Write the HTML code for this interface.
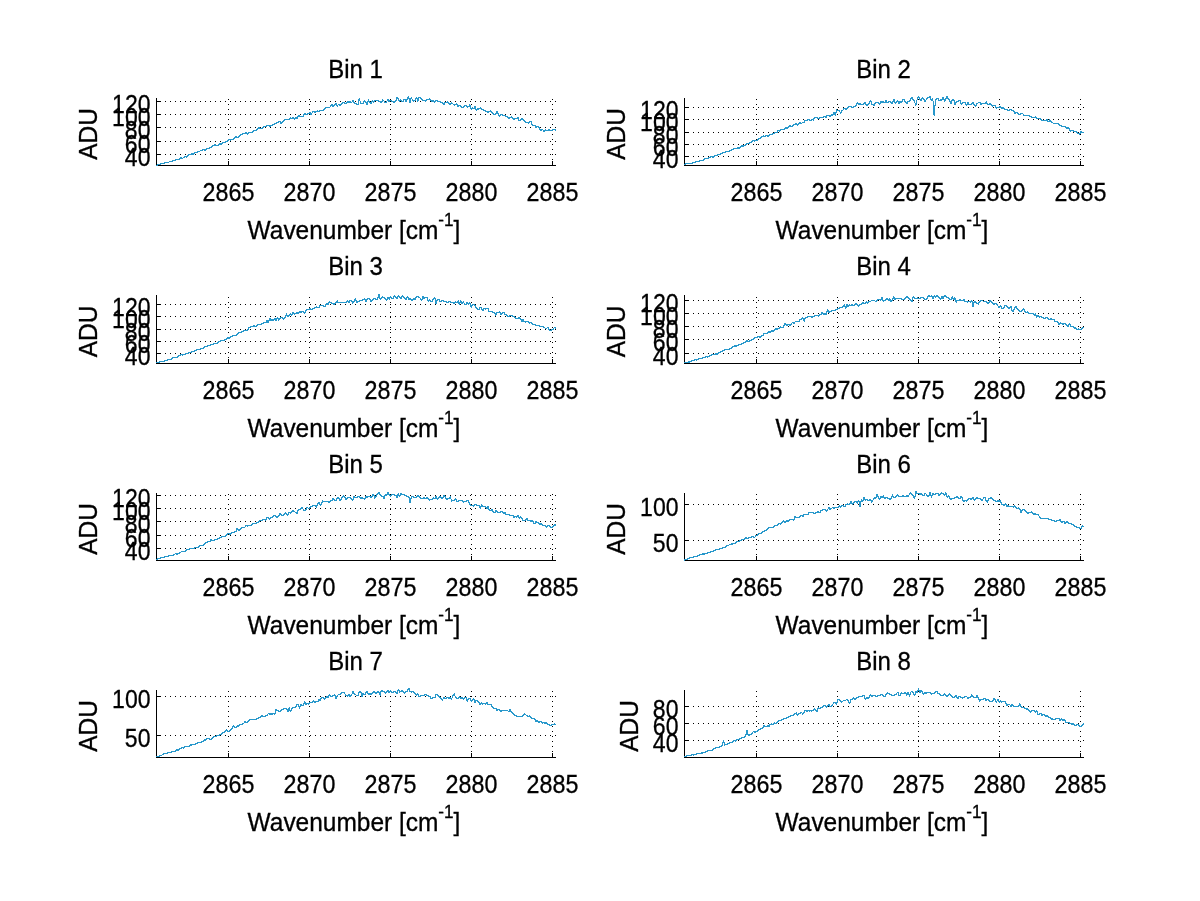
<!DOCTYPE html>
<html><head><meta charset="utf-8"><title>Bins</title>
<style>
html,body{margin:0;padding:0;background:#fff;}
body{width:1200px;height:901px;overflow:hidden;}
svg{display:block;will-change:transform;transform:translateZ(0);}
text{font-family:"Liberation Sans",sans-serif;font-size:24px;fill:#000;stroke:#000;stroke-width:0.3px;}
</style></head><body>
<svg width="1200" height="901" viewBox="0 0 1200 901">
<g stroke="#000" stroke-width="1" shape-rendering="crispEdges" fill="none">
<line x1="160" y1="101.5" x2="556" y2="101.5" stroke-dasharray="1 4"/>
<line x1="156" y1="101.5" x2="161" y2="101.5"/>
<line x1="160" y1="114.5" x2="556" y2="114.5" stroke-dasharray="1 4"/>
<line x1="156" y1="114.5" x2="161" y2="114.5"/>
<line x1="160" y1="127.5" x2="556" y2="127.5" stroke-dasharray="1 4"/>
<line x1="156" y1="127.5" x2="161" y2="127.5"/>
<line x1="160" y1="141.5" x2="556" y2="141.5" stroke-dasharray="1 4"/>
<line x1="156" y1="141.5" x2="161" y2="141.5"/>
<line x1="160" y1="154.5" x2="556" y2="154.5" stroke-dasharray="1 4"/>
<line x1="156" y1="154.5" x2="161" y2="154.5"/>
<line x1="228.5" y1="160" x2="228.5" y2="98" stroke-dasharray="1 4"/>
<line x1="228.5" y1="166" x2="228.5" y2="161"/>
<line x1="309.5" y1="160" x2="309.5" y2="98" stroke-dasharray="1 4"/>
<line x1="309.5" y1="166" x2="309.5" y2="161"/>
<line x1="390.5" y1="160" x2="390.5" y2="98" stroke-dasharray="1 4"/>
<line x1="390.5" y1="166" x2="390.5" y2="161"/>
<line x1="471.5" y1="160" x2="471.5" y2="98" stroke-dasharray="1 4"/>
<line x1="471.5" y1="166" x2="471.5" y2="161"/>
<line x1="552.5" y1="160" x2="552.5" y2="98" stroke-dasharray="1 4"/>
<line x1="552.5" y1="166" x2="552.5" y2="161"/>
<line x1="156.5" y1="98" x2="156.5" y2="166"/>
<line x1="156" y1="165.5" x2="556" y2="165.5"/>
</g>
<path d="M156.5,165V166M157.5,164V166M158.5,164V165M159.5,164V165M160.5,163V165M161.5,163V164M162.5,163V164M163.5,163V164M164.5,162V164M165.5,162V163M166.5,162V163M167.5,162V163M168.5,162V163M169.5,161V162M170.5,161V162M171.5,161V162M172.5,160V162M173.5,160V161M174.5,160V161M175.5,159V161M176.5,159V160M177.5,159V160M178.5,159V160M179.5,158V160M180.5,157V159M181.5,157V159M182.5,158V159M183.5,157V158M184.5,156V158M185.5,156V157M186.5,156V158M187.5,155V157M188.5,154V156M189.5,154V155M190.5,154V155M191.5,153V155M192.5,153V155M193.5,153V155M194.5,152V154M195.5,152V153M196.5,152V153M197.5,151V153M198.5,151V152M199.5,151V152M200.5,150V151M201.5,150V151M202.5,149V151M203.5,149V150M204.5,149V151M205.5,149V151M206.5,148V150M207.5,148V149M208.5,148V149M209.5,147V149M210.5,147V148M211.5,146V148M212.5,145V147M213.5,145V146M214.5,144V146M215.5,144V146M216.5,145V146M217.5,145V146M218.5,144V146M219.5,143V145M220.5,143V145M221.5,143V145M222.5,142V144M223.5,142V143M224.5,142V143M225.5,141V143M226.5,141V142M227.5,140V142M228.5,139V141M229.5,139V140M230.5,139V141M231.5,139V140M232.5,139V140M233.5,138V140M234.5,137V139M235.5,136V138M236.5,136V138M237.5,137V138M238.5,136V138M239.5,135V137M240.5,134V136M241.5,134V135M242.5,133V135M243.5,133V134M244.5,133V134M245.5,132V134M246.5,132V134M247.5,133V135M248.5,132V134M249.5,132V133M250.5,132V133M251.5,132V133M252.5,131V133M253.5,130V132M254.5,130V131M255.5,130V131M256.5,129V131M257.5,128V130M258.5,127V129M259.5,127V129M260.5,128V129M261.5,128V129M262.5,127V129M263.5,126V128M264.5,126V127M265.5,126V127M266.5,125V127M267.5,125V126M268.5,125V126M269.5,125V127M270.5,125V127M271.5,125V126M272.5,124V126M273.5,124V125M274.5,123V125M275.5,123V124M276.5,122V124M277.5,122V123M278.5,121V123M279.5,121V122M280.5,121V124M281.5,122V124M282.5,121V123M283.5,120V122M284.5,119V121M285.5,119V120M286.5,119V120M287.5,119V120M288.5,119V120M289.5,118V120M290.5,117V119M291.5,118V119M292.5,117V119M293.5,117V119M294.5,118V120M295.5,117V119M296.5,117V119M297.5,116V119M298.5,115V117M299.5,115V117M300.5,116V117M301.5,116V117M302.5,116V117M303.5,114V117M304.5,113V115M305.5,113V115M306.5,114V115M307.5,113V115M308.5,113V114M309.5,112V114M310.5,112V115M311.5,113V115M312.5,111V113M313.5,111V112M314.5,111V113M315.5,111V113M316.5,111V112M317.5,110V112M318.5,111V112M319.5,110V112M320.5,110V111M321.5,110V111M322.5,110V111M323.5,109V111M324.5,108V110M325.5,107V109M326.5,107V108M327.5,107V108M328.5,107V108M329.5,107V108M330.5,105V107M331.5,104V106M332.5,104V107M333.5,105V107M334.5,104V106M335.5,103V105M336.5,103V106M337.5,105V107M338.5,104V105M339.5,104V106M340.5,104V106M341.5,103V105M342.5,102V104M343.5,102V103M344.5,102V104M345.5,103V104M346.5,102V104M347.5,101V103M348.5,101V103M349.5,101V103M350.5,101V103M351.5,102V103M352.5,100V102M353.5,100V103M354.5,102V104M355.5,103V104M356.5,103V105M357.5,104V105M358.5,99V105M359.5,98V101M360.5,101V104M361.5,103V104M362.5,103V104M363.5,101V104M364.5,100V102M365.5,101V103M366.5,102V105M367.5,101V105M368.5,99V102M369.5,101V103M370.5,102V104M371.5,101V104M372.5,100V102M373.5,101V103M374.5,100V102M375.5,100V101M376.5,100V101M377.5,100V101M378.5,100V102M379.5,101V102M380.5,101V103M381.5,101V103M382.5,99V102M383.5,100V101M384.5,101V103M385.5,102V103M386.5,101V103M387.5,99V101M388.5,99V102M389.5,100V102M390.5,100V101M391.5,100V102M392.5,101V102M393.5,101V103M394.5,101V103M395.5,100V102M396.5,97V101M397.5,97V99M398.5,98V101M399.5,100V102M400.5,99V101M401.5,100V102M402.5,101V102M403.5,99V102M404.5,99V100M405.5,99V102M406.5,99V102M407.5,97V100M408.5,96V99M409.5,98V103M410.5,98V103M411.5,97V99M412.5,99V101M413.5,100V102M414.5,100V101M415.5,98V101M416.5,97V99M417.5,98V102M418.5,97V101M419.5,97V98M420.5,97V99M421.5,98V100M422.5,99V101M423.5,100V101M424.5,100V101M425.5,100V102M426.5,99V101M427.5,99V100M428.5,99V100M429.5,98V100M430.5,99V101M431.5,100V102M432.5,100V102M433.5,100V102M434.5,101V103M435.5,100V102M436.5,100V101M437.5,100V102M438.5,101V102M439.5,101V102M440.5,101V103M441.5,102V103M442.5,102V104M443.5,103V105M444.5,102V105M445.5,102V103M446.5,102V103M447.5,101V103M448.5,102V104M449.5,103V105M450.5,103V105M451.5,102V104M452.5,103V104M453.5,104V105M454.5,104V106M455.5,104V105M456.5,103V105M457.5,104V107M458.5,105V107M459.5,105V106M460.5,105V107M461.5,106V108M462.5,107V108M463.5,106V108M464.5,105V107M465.5,105V106M466.5,105V107M467.5,106V108M468.5,106V107M469.5,104V107M470.5,105V109M471.5,108V110M472.5,107V109M473.5,108V109M474.5,106V109M475.5,106V110M476.5,109V111M477.5,108V110M478.5,108V110M479.5,108V109M480.5,107V109M481.5,108V110M482.5,109V110M483.5,109V111M484.5,110V111M485.5,110V112M486.5,111V112M487.5,111V113M488.5,111V113M489.5,111V112M490.5,110V112M491.5,111V113M492.5,112V114M493.5,113V115M494.5,114V115M495.5,113V115M496.5,111V114M497.5,111V114M498.5,113V116M499.5,115V117M500.5,114V116M501.5,114V115M502.5,114V116M503.5,115V116M504.5,115V116M505.5,115V117M506.5,116V117M507.5,116V118M508.5,117V119M509.5,117V119M510.5,117V118M511.5,116V118M512.5,117V119M513.5,118V120M514.5,118V120M515.5,118V119M516.5,118V119M517.5,117V119M518.5,117V121M519.5,120V121M520.5,119V121M521.5,118V120M522.5,118V120M523.5,119V121M524.5,120V122M525.5,121V123M526.5,122V123M527.5,122V123M528.5,122V124M529.5,121V123M530.5,121V122M531.5,121V125M532.5,124V126M533.5,125V126M534.5,125V126M535.5,125V128M536.5,126V128M537.5,126V127M538.5,126V128M539.5,127V130M540.5,129V131M541.5,129V131M542.5,129V130M543.5,130V132M544.5,130V132M545.5,129V131M546.5,130V131M547.5,130V131M548.5,129V131M549.5,129V131M550.5,130V131M551.5,130V131M552.5,129V131M553.5,129V130M554.5,129V130M555.5,129V131" fill="none" stroke="#2898cb" stroke-width="1" shape-rendering="crispEdges"/>
<text transform="translate(355.5,78) scale(1.0,1.1)" text-anchor="middle">Bin 1</text>
<text transform="translate(228.5,201) scale(0.97,1.1)" text-anchor="middle">2865</text>
<text transform="translate(309.5,201) scale(0.97,1.1)" text-anchor="middle">2870</text>
<text transform="translate(390.5,201) scale(0.97,1.1)" text-anchor="middle">2875</text>
<text transform="translate(471.5,201) scale(0.97,1.1)" text-anchor="middle">2880</text>
<text transform="translate(552.5,201) scale(0.97,1.1)" text-anchor="middle">2885</text>
<text transform="translate(354.0,239) scale(1.02,1.1)" text-anchor="middle">Wavenumber [cm<tspan dy="-11.6" font-size="16.8">-1</tspan><tspan dy="11.6">]</tspan></text>
<text transform="translate(150.5,112.7) scale(0.96,1.1)" text-anchor="end">120</text>
<text transform="translate(150.5,125.7) scale(0.96,1.1)" text-anchor="end">100</text>
<text transform="translate(150.5,138.7) scale(0.96,1.1)" text-anchor="end">80</text>
<text transform="translate(150.5,152.7) scale(0.96,1.1)" text-anchor="end">60</text>
<text transform="translate(150.5,165.7) scale(0.96,1.1)" text-anchor="end">40</text>
<text transform="translate(97,134.0) rotate(-90) scale(1.02,1.1)" text-anchor="middle">ADU</text>
<g stroke="#000" stroke-width="1" shape-rendering="crispEdges" fill="none">
<line x1="688" y1="107.5" x2="1084" y2="107.5" stroke-dasharray="1 4"/>
<line x1="684" y1="107.5" x2="689" y2="107.5"/>
<line x1="688" y1="119.5" x2="1084" y2="119.5" stroke-dasharray="1 4"/>
<line x1="684" y1="119.5" x2="689" y2="119.5"/>
<line x1="688" y1="132.5" x2="1084" y2="132.5" stroke-dasharray="1 4"/>
<line x1="684" y1="132.5" x2="689" y2="132.5"/>
<line x1="688" y1="144.5" x2="1084" y2="144.5" stroke-dasharray="1 4"/>
<line x1="684" y1="144.5" x2="689" y2="144.5"/>
<line x1="688" y1="156.5" x2="1084" y2="156.5" stroke-dasharray="1 4"/>
<line x1="684" y1="156.5" x2="689" y2="156.5"/>
<line x1="756.5" y1="160" x2="756.5" y2="98" stroke-dasharray="1 4"/>
<line x1="756.5" y1="166" x2="756.5" y2="161"/>
<line x1="837.5" y1="160" x2="837.5" y2="98" stroke-dasharray="1 4"/>
<line x1="837.5" y1="166" x2="837.5" y2="161"/>
<line x1="918.5" y1="160" x2="918.5" y2="98" stroke-dasharray="1 4"/>
<line x1="918.5" y1="166" x2="918.5" y2="161"/>
<line x1="999.5" y1="160" x2="999.5" y2="98" stroke-dasharray="1 4"/>
<line x1="999.5" y1="166" x2="999.5" y2="161"/>
<line x1="1080.5" y1="160" x2="1080.5" y2="98" stroke-dasharray="1 4"/>
<line x1="1080.5" y1="166" x2="1080.5" y2="161"/>
<line x1="684.5" y1="98" x2="684.5" y2="166"/>
<line x1="684" y1="165.5" x2="1084" y2="165.5"/>
</g>
<path d="M684.5,164V165M685.5,163V165M686.5,163V164M687.5,163V164M688.5,163V164M689.5,163V164M690.5,163V164M691.5,163V164M692.5,162V164M693.5,162V163M694.5,162V163M695.5,161V163M696.5,161V162M697.5,161V162M698.5,161V162M699.5,160V162M700.5,160V161M701.5,160V161M702.5,160V161M703.5,159V161M704.5,158V160M705.5,158V159M706.5,158V159M707.5,158V159M708.5,157V159M709.5,157V158M710.5,156V158M711.5,156V157M712.5,156V158M713.5,156V158M714.5,155V157M715.5,155V156M716.5,155V156M717.5,154V156M718.5,154V155M719.5,154V155M720.5,153V155M721.5,153V154M722.5,152V154M723.5,152V153M724.5,152V153M725.5,151V153M726.5,151V152M727.5,151V152M728.5,151V152M729.5,150V152M730.5,150V151M731.5,149V151M732.5,149V150M733.5,148V150M734.5,148V149M735.5,148V149M736.5,148V149M737.5,147V149M738.5,147V149M739.5,147V149M740.5,146V148M741.5,145V147M742.5,145V147M743.5,145V147M744.5,145V146M745.5,144V146M746.5,143V145M747.5,143V144M748.5,143V144M749.5,142V144M750.5,142V143M751.5,141V143M752.5,140V142M753.5,140V141M754.5,140V142M755.5,140V141M756.5,140V141M757.5,139V141M758.5,138V140M759.5,138V139M760.5,137V139M761.5,136V138M762.5,136V137M763.5,135V137M764.5,136V137M765.5,135V137M766.5,135V136M767.5,135V137M768.5,135V137M769.5,134V136M770.5,134V135M771.5,134V135M772.5,133V135M773.5,133V134M774.5,132V134M775.5,132V133M776.5,132V133M777.5,130V133M778.5,130V131M779.5,130V132M780.5,129V131M781.5,129V130M782.5,129V130M783.5,129V130M784.5,128V130M785.5,127V129M786.5,127V129M787.5,127V129M788.5,126V128M789.5,125V127M790.5,125V127M791.5,126V127M792.5,125V127M793.5,124V126M794.5,124V125M795.5,123V125M796.5,123V125M797.5,124V126M798.5,123V125M799.5,122V124M800.5,122V124M801.5,123V124M802.5,122V123M803.5,122V123M804.5,120V123M805.5,120V121M806.5,120V121M807.5,119V121M808.5,119V120M809.5,119V121M810.5,120V121M811.5,119V121M812.5,119V120M813.5,118V121M814.5,117V119M815.5,117V118M816.5,117V118M817.5,117V119M818.5,118V119M819.5,117V119M820.5,117V118M821.5,117V118M822.5,117V118M823.5,116V118M824.5,116V117M825.5,116V118M826.5,115V118M827.5,115V116M828.5,115V116M829.5,115V117M830.5,115V117M831.5,114V116M832.5,114V116M833.5,112V115M834.5,112V115M835.5,112V116M836.5,109V113M837.5,110V111M838.5,110V111M839.5,110V112M840.5,112V114M841.5,110V113M842.5,110V111M843.5,108V110M844.5,108V109M845.5,108V110M846.5,108V110M847.5,107V109M848.5,106V108M849.5,106V107M850.5,106V107M851.5,106V108M852.5,107V108M853.5,106V108M854.5,106V107M855.5,105V107M856.5,103V106M857.5,102V104M858.5,103V105M859.5,103V105M860.5,103V105M861.5,104V105M862.5,104V105M863.5,103V105M864.5,102V104M865.5,102V105M866.5,104V106M867.5,104V106M868.5,103V105M869.5,101V104M870.5,100V102M871.5,101V105M872.5,104V105M873.5,104V106M874.5,103V106M875.5,102V104M876.5,102V103M877.5,102V103M878.5,102V104M879.5,103V105M880.5,101V104M881.5,101V103M882.5,101V103M883.5,101V103M884.5,102V103M885.5,100V103M886.5,100V103M887.5,102V103M888.5,101V103M889.5,101V102M890.5,101V103M891.5,102V104M892.5,101V104M893.5,99V102M894.5,99V103M895.5,102V104M896.5,101V103M897.5,100V102M898.5,101V104M899.5,101V104M900.5,101V103M901.5,101V103M902.5,99V102M903.5,99V100M904.5,99V102M905.5,101V103M906.5,102V104M907.5,101V104M908.5,101V102M909.5,100V102M910.5,98V101M911.5,97V99M912.5,97V100M913.5,99V101M914.5,100V103M915.5,103V106M916.5,100V105M917.5,97V100M918.5,96V98M919.5,97V100M920.5,99V101M921.5,98V101M922.5,97V99M923.5,98V100M924.5,99V102M925.5,100V102M926.5,98V100M927.5,97V99M928.5,97V98M929.5,96V98M930.5,96V100M931.5,99V101M932.5,98V101M933.5,101V115M934.5,105V116M935.5,99V106M936.5,98V100M937.5,98V99M938.5,98V101M939.5,100V101M940.5,99V101M941.5,99V101M942.5,97V100M943.5,97V100M944.5,99V102M945.5,98V101M946.5,96V99M947.5,96V99M948.5,98V100M949.5,99V102M950.5,101V104M951.5,100V104M952.5,99V101M953.5,99V101M954.5,100V105M955.5,102V105M956.5,101V103M957.5,101V102M958.5,100V102M959.5,100V101M960.5,100V104M961.5,103V105M962.5,102V104M963.5,102V103M964.5,102V103M965.5,102V105M966.5,104V106M967.5,102V105M968.5,102V105M969.5,104V105M970.5,104V105M971.5,103V105M972.5,102V104M973.5,102V105M974.5,104V106M975.5,105V107M976.5,103V106M977.5,103V104M978.5,102V103M979.5,102V103M980.5,102V105M981.5,103V105M982.5,103V104M983.5,103V104M984.5,103V104M985.5,102V104M986.5,101V104M987.5,103V105M988.5,104V105M989.5,103V105M990.5,103V105M991.5,104V106M992.5,105V107M993.5,105V106M994.5,105V106M995.5,105V108M996.5,107V109M997.5,107V108M998.5,107V108M999.5,106V108M1000.5,106V108M1001.5,107V109M1002.5,107V109M1003.5,107V109M1004.5,108V110M1005.5,109V110M1006.5,109V110M1007.5,109V111M1008.5,110V111M1009.5,109V111M1010.5,109V110M1011.5,109V111M1012.5,110V111M1013.5,110V112M1014.5,111V114M1015.5,112V114M1016.5,112V113M1017.5,112V114M1018.5,113V115M1019.5,114V115M1020.5,113V115M1021.5,113V114M1022.5,113V114M1023.5,114V116M1024.5,115V116M1025.5,115V116M1026.5,115V116M1027.5,115V116M1028.5,115V116M1029.5,115V117M1030.5,116V117M1031.5,116V118M1032.5,117V118M1033.5,117V118M1034.5,117V118M1035.5,116V118M1036.5,117V119M1037.5,118V119M1038.5,118V119M1039.5,118V119M1040.5,118V120M1041.5,119V121M1042.5,120V121M1043.5,120V121M1044.5,120V121M1045.5,120V121M1046.5,119V121M1047.5,119V122M1048.5,121V122M1049.5,119V122M1050.5,120V122M1051.5,121V123M1052.5,122V123M1053.5,123V124M1054.5,123V124M1055.5,123V124M1056.5,123V124M1057.5,123V124M1058.5,123V125M1059.5,124V126M1060.5,125V126M1061.5,125V127M1062.5,126V127M1063.5,126V127M1064.5,126V127M1065.5,126V128M1066.5,127V129M1067.5,127V129M1068.5,127V129M1069.5,128V131M1070.5,130V132M1071.5,130V131M1072.5,130V131M1073.5,130V132M1074.5,131V132M1075.5,131V132M1076.5,131V133M1077.5,132V134M1078.5,133V134M1079.5,133V135M1080.5,131V134M1081.5,131V133M1082.5,132V133M1083.5,132V133" fill="none" stroke="#2898cb" stroke-width="1" shape-rendering="crispEdges"/>
<text transform="translate(883.5,78) scale(1.0,1.1)" text-anchor="middle">Bin 2</text>
<text transform="translate(756.5,201) scale(0.97,1.1)" text-anchor="middle">2865</text>
<text transform="translate(837.5,201) scale(0.97,1.1)" text-anchor="middle">2870</text>
<text transform="translate(918.5,201) scale(0.97,1.1)" text-anchor="middle">2875</text>
<text transform="translate(999.5,201) scale(0.97,1.1)" text-anchor="middle">2880</text>
<text transform="translate(1080.5,201) scale(0.97,1.1)" text-anchor="middle">2885</text>
<text transform="translate(882.0,239) scale(1.02,1.1)" text-anchor="middle">Wavenumber [cm<tspan dy="-11.6" font-size="16.8">-1</tspan><tspan dy="11.6">]</tspan></text>
<text transform="translate(678.5,118.7) scale(0.96,1.1)" text-anchor="end">120</text>
<text transform="translate(678.5,130.7) scale(0.96,1.1)" text-anchor="end">100</text>
<text transform="translate(678.5,143.7) scale(0.96,1.1)" text-anchor="end">80</text>
<text transform="translate(678.5,155.7) scale(0.96,1.1)" text-anchor="end">60</text>
<text transform="translate(678.5,167.7) scale(0.96,1.1)" text-anchor="end">40</text>
<text transform="translate(625,134.0) rotate(-90) scale(1.02,1.1)" text-anchor="middle">ADU</text>
<g stroke="#000" stroke-width="1" shape-rendering="crispEdges" fill="none">
<line x1="160" y1="304.5" x2="556" y2="304.5" stroke-dasharray="1 4"/>
<line x1="156" y1="304.5" x2="161" y2="304.5"/>
<line x1="160" y1="316.5" x2="556" y2="316.5" stroke-dasharray="1 4"/>
<line x1="156" y1="316.5" x2="161" y2="316.5"/>
<line x1="160" y1="329.5" x2="556" y2="329.5" stroke-dasharray="1 4"/>
<line x1="156" y1="329.5" x2="161" y2="329.5"/>
<line x1="160" y1="341.5" x2="556" y2="341.5" stroke-dasharray="1 4"/>
<line x1="156" y1="341.5" x2="161" y2="341.5"/>
<line x1="160" y1="353.5" x2="556" y2="353.5" stroke-dasharray="1 4"/>
<line x1="156" y1="353.5" x2="161" y2="353.5"/>
<line x1="228.5" y1="358" x2="228.5" y2="295" stroke-dasharray="1 4"/>
<line x1="228.5" y1="364" x2="228.5" y2="359"/>
<line x1="309.5" y1="358" x2="309.5" y2="295" stroke-dasharray="1 4"/>
<line x1="309.5" y1="364" x2="309.5" y2="359"/>
<line x1="390.5" y1="358" x2="390.5" y2="295" stroke-dasharray="1 4"/>
<line x1="390.5" y1="364" x2="390.5" y2="359"/>
<line x1="471.5" y1="358" x2="471.5" y2="295" stroke-dasharray="1 4"/>
<line x1="471.5" y1="364" x2="471.5" y2="359"/>
<line x1="552.5" y1="358" x2="552.5" y2="295" stroke-dasharray="1 4"/>
<line x1="552.5" y1="364" x2="552.5" y2="359"/>
<line x1="156.5" y1="295" x2="156.5" y2="364"/>
<line x1="156" y1="363.5" x2="556" y2="363.5"/>
</g>
<path d="M156.5,362V363M157.5,362V363M158.5,362V363M159.5,361V363M160.5,361V362M161.5,361V362M162.5,361V362M163.5,361V362M164.5,360V362M165.5,360V361M166.5,360V361M167.5,359V361M168.5,359V360M169.5,359V360M170.5,359V360M171.5,358V360M172.5,357V359M173.5,357V358M174.5,357V358M175.5,357V358M176.5,357V358M177.5,356V358M178.5,355V357M179.5,355V356M180.5,354V356M181.5,354V355M182.5,354V356M183.5,354V355M184.5,354V355M185.5,353V355M186.5,353V354M187.5,353V354M188.5,352V354M189.5,352V353M190.5,352V353M191.5,351V353M192.5,351V352M193.5,351V352M194.5,350V352M195.5,350V351M196.5,349V351M197.5,349V350M198.5,349V350M199.5,349V350M200.5,348V350M201.5,348V349M202.5,348V349M203.5,347V349M204.5,346V348M205.5,346V347M206.5,346V347M207.5,345V347M208.5,345V346M209.5,345V346M210.5,344V346M211.5,344V345M212.5,344V345M213.5,343V345M214.5,343V344M215.5,343V344M216.5,343V344M217.5,342V344M218.5,341V343M219.5,341V342M220.5,340V342M221.5,340V341M222.5,340V341M223.5,340V341M224.5,339V341M225.5,339V340M226.5,338V340M227.5,337V339M228.5,337V339M229.5,337V339M230.5,336V338M231.5,336V337M232.5,335V337M233.5,335V336M234.5,335V336M235.5,335V336M236.5,334V336M237.5,333V335M238.5,332V334M239.5,332V333M240.5,332V333M241.5,331V333M242.5,331V332M243.5,330V332M244.5,330V331M245.5,330V331M246.5,330V331M247.5,329V331M248.5,327V330M249.5,327V328M250.5,326V328M251.5,326V327M252.5,326V327M253.5,325V327M254.5,325V327M255.5,326V327M256.5,325V327M257.5,324V326M258.5,324V325M259.5,324V325M260.5,324V325M261.5,323V325M262.5,323V324M263.5,322V324M264.5,322V323M265.5,322V323M266.5,320V323M267.5,320V323M268.5,320V323M269.5,318V321M270.5,318V321M271.5,319V321M272.5,319V321M273.5,319V321M274.5,318V320M275.5,318V321M276.5,318V321M277.5,317V319M278.5,318V321M279.5,318V320M280.5,317V319M281.5,317V318M282.5,317V319M283.5,318V320M284.5,317V319M285.5,315V318M286.5,313V316M287.5,315V317M288.5,315V317M289.5,314V316M290.5,313V315M291.5,314V316M292.5,312V315M293.5,312V314M294.5,313V315M295.5,313V314M296.5,312V314M297.5,312V314M298.5,312V314M299.5,311V313M300.5,311V313M301.5,311V313M302.5,311V312M303.5,311V313M304.5,312V314M305.5,310V313M306.5,309V311M307.5,309V310M308.5,309V310M309.5,308V310M310.5,308V310M311.5,309V310M312.5,308V310M313.5,308V309M314.5,307V309M315.5,307V308M316.5,306V308M317.5,307V308M318.5,307V308M319.5,305V308M320.5,305V306M321.5,305V306M322.5,305V306M323.5,305V307M324.5,306V307M325.5,304V307M326.5,303V305M327.5,303V305M328.5,302V305M329.5,301V303M330.5,302V303M331.5,302V304M332.5,303V304M333.5,303V305M334.5,303V305M335.5,302V304M336.5,301V303M337.5,300V303M338.5,302V303M339.5,302V303M340.5,302V303M341.5,302V303M342.5,302V303M343.5,302V303M344.5,302V303M345.5,302V303M346.5,301V303M347.5,300V302M348.5,301V303M349.5,300V303M350.5,300V301M351.5,300V302M352.5,301V304M353.5,301V303M354.5,299V302M355.5,298V301M356.5,300V303M357.5,301V303M358.5,301V302M359.5,300V302M360.5,300V301M361.5,300V301M362.5,299V301M363.5,299V300M364.5,298V300M365.5,299V302M366.5,299V302M367.5,298V300M368.5,298V299M369.5,298V300M370.5,299V302M371.5,300V302M372.5,299V301M373.5,298V300M374.5,298V299M375.5,298V300M376.5,299V300M377.5,297V300M378.5,294V298M379.5,294V299M380.5,298V300M381.5,297V299M382.5,296V298M383.5,297V298M384.5,297V299M385.5,298V300M386.5,299V301M387.5,297V300M388.5,297V299M389.5,297V300M390.5,296V298M391.5,297V299M392.5,298V299M393.5,296V299M394.5,295V297M395.5,296V298M396.5,297V299M397.5,296V299M398.5,295V297M399.5,296V298M400.5,297V299M401.5,296V299M402.5,295V297M403.5,296V298M404.5,297V299M405.5,298V300M406.5,297V300M407.5,296V298M408.5,297V300M409.5,298V300M410.5,298V300M411.5,299V301M412.5,299V301M413.5,298V300M414.5,298V300M415.5,297V300M416.5,296V298M417.5,296V297M418.5,296V298M419.5,297V298M420.5,298V300M421.5,299V301M422.5,296V300M423.5,296V299M424.5,297V299M425.5,297V298M426.5,297V298M427.5,297V301M428.5,300V302M429.5,299V301M430.5,300V302M431.5,301V302M432.5,299V302M433.5,298V300M434.5,297V299M435.5,298V304M436.5,300V304M437.5,299V301M438.5,299V300M439.5,299V302M440.5,301V302M441.5,300V302M442.5,300V301M443.5,300V302M444.5,301V302M445.5,301V302M446.5,301V303M447.5,302V303M448.5,301V303M449.5,301V302M450.5,301V303M451.5,302V303M452.5,302V303M453.5,302V304M454.5,302V304M455.5,301V303M456.5,302V303M457.5,301V303M458.5,300V304M459.5,302V305M460.5,300V303M461.5,301V304M462.5,302V304M463.5,301V303M464.5,303V305M465.5,304V305M466.5,302V305M467.5,302V304M468.5,303V305M469.5,302V304M470.5,303V307M471.5,305V308M472.5,304V306M473.5,304V305M474.5,304V306M475.5,305V308M476.5,307V309M477.5,308V310M478.5,309V310M479.5,307V310M480.5,307V308M481.5,307V310M482.5,309V311M483.5,308V311M484.5,308V309M485.5,308V310M486.5,308V309M487.5,308V309M488.5,308V312M489.5,311V312M490.5,311V312M491.5,311V312M492.5,311V313M493.5,312V313M494.5,312V314M495.5,313V316M496.5,312V315M497.5,312V313M498.5,312V313M499.5,311V313M500.5,312V315M501.5,313V315M502.5,312V314M503.5,312V313M504.5,312V315M505.5,314V315M506.5,314V316M507.5,315V317M508.5,316V317M509.5,315V317M510.5,315V316M511.5,315V316M512.5,315V317M513.5,316V317M514.5,316V318M515.5,317V319M516.5,318V319M517.5,318V319M518.5,317V319M519.5,317V319M520.5,318V320M521.5,319V322M522.5,319V322M523.5,319V322M524.5,321V322M525.5,321V323M526.5,321V322M527.5,321V322M528.5,321V323M529.5,322V324M530.5,322V323M531.5,322V324M532.5,323V325M533.5,324V325M534.5,324V325M535.5,324V326M536.5,325V326M537.5,325V326M538.5,325V326M539.5,325V327M540.5,326V327M541.5,326V327M542.5,326V327M543.5,326V328M544.5,327V328M545.5,328V329M546.5,328V329M547.5,327V328M548.5,327V330M549.5,329V331M550.5,330V331M551.5,329V331M552.5,329V330M553.5,328V330M554.5,327V328M555.5,327V329" fill="none" stroke="#2898cb" stroke-width="1" shape-rendering="crispEdges"/>
<text transform="translate(355.5,275) scale(1.0,1.1)" text-anchor="middle">Bin 3</text>
<text transform="translate(228.5,399) scale(0.97,1.1)" text-anchor="middle">2865</text>
<text transform="translate(309.5,399) scale(0.97,1.1)" text-anchor="middle">2870</text>
<text transform="translate(390.5,399) scale(0.97,1.1)" text-anchor="middle">2875</text>
<text transform="translate(471.5,399) scale(0.97,1.1)" text-anchor="middle">2880</text>
<text transform="translate(552.5,399) scale(0.97,1.1)" text-anchor="middle">2885</text>
<text transform="translate(354.0,437) scale(1.02,1.1)" text-anchor="middle">Wavenumber [cm<tspan dy="-11.6" font-size="16.8">-1</tspan><tspan dy="11.6">]</tspan></text>
<text transform="translate(150.5,315.7) scale(0.96,1.1)" text-anchor="end">120</text>
<text transform="translate(150.5,327.7) scale(0.96,1.1)" text-anchor="end">100</text>
<text transform="translate(150.5,340.7) scale(0.96,1.1)" text-anchor="end">80</text>
<text transform="translate(150.5,352.7) scale(0.96,1.1)" text-anchor="end">60</text>
<text transform="translate(150.5,364.7) scale(0.96,1.1)" text-anchor="end">40</text>
<text transform="translate(97,331.5) rotate(-90) scale(1.02,1.1)" text-anchor="middle">ADU</text>
<g stroke="#000" stroke-width="1" shape-rendering="crispEdges" fill="none">
<line x1="688" y1="300.5" x2="1084" y2="300.5" stroke-dasharray="1 4"/>
<line x1="684" y1="300.5" x2="689" y2="300.5"/>
<line x1="688" y1="313.5" x2="1084" y2="313.5" stroke-dasharray="1 4"/>
<line x1="684" y1="313.5" x2="689" y2="313.5"/>
<line x1="688" y1="326.5" x2="1084" y2="326.5" stroke-dasharray="1 4"/>
<line x1="684" y1="326.5" x2="689" y2="326.5"/>
<line x1="688" y1="339.5" x2="1084" y2="339.5" stroke-dasharray="1 4"/>
<line x1="684" y1="339.5" x2="689" y2="339.5"/>
<line x1="688" y1="353.5" x2="1084" y2="353.5" stroke-dasharray="1 4"/>
<line x1="684" y1="353.5" x2="689" y2="353.5"/>
<line x1="756.5" y1="358" x2="756.5" y2="295" stroke-dasharray="1 4"/>
<line x1="756.5" y1="364" x2="756.5" y2="359"/>
<line x1="837.5" y1="358" x2="837.5" y2="295" stroke-dasharray="1 4"/>
<line x1="837.5" y1="364" x2="837.5" y2="359"/>
<line x1="918.5" y1="358" x2="918.5" y2="295" stroke-dasharray="1 4"/>
<line x1="918.5" y1="364" x2="918.5" y2="359"/>
<line x1="999.5" y1="358" x2="999.5" y2="295" stroke-dasharray="1 4"/>
<line x1="999.5" y1="364" x2="999.5" y2="359"/>
<line x1="1080.5" y1="358" x2="1080.5" y2="295" stroke-dasharray="1 4"/>
<line x1="1080.5" y1="364" x2="1080.5" y2="359"/>
<line x1="684.5" y1="295" x2="684.5" y2="364"/>
<line x1="684" y1="363.5" x2="1084" y2="363.5"/>
</g>
<path d="M684.5,362V363M685.5,362V363M686.5,362V363M687.5,362V363M688.5,361V363M689.5,361V363M690.5,361V362M691.5,360V362M692.5,360V361M693.5,360V361M694.5,359V361M695.5,359V360M696.5,359V361M697.5,359V360M698.5,358V360M699.5,358V359M700.5,358V359M701.5,358V359M702.5,357V359M703.5,357V358M704.5,357V358M705.5,356V358M706.5,356V357M707.5,356V358M708.5,356V357M709.5,355V357M710.5,355V356M711.5,354V356M712.5,354V355M713.5,354V355M714.5,354V355M715.5,353V355M716.5,353V355M717.5,353V355M718.5,352V354M719.5,352V353M720.5,351V353M721.5,351V352M722.5,350V352M723.5,350V351M724.5,349V351M725.5,349V350M726.5,349V350M727.5,349V350M728.5,349V350M729.5,348V350M730.5,348V349M731.5,347V349M732.5,346V348M733.5,346V347M734.5,345V347M735.5,345V347M736.5,345V347M737.5,345V346M738.5,344V346M739.5,344V345M740.5,344V345M741.5,343V345M742.5,343V344M743.5,342V344M744.5,342V343M745.5,341V343M746.5,340V342M747.5,340V342M748.5,341V342M749.5,340V342M750.5,340V341M751.5,339V341M752.5,339V340M753.5,338V340M754.5,337V339M755.5,337V338M756.5,337V338M757.5,336V338M758.5,336V337M759.5,336V338M760.5,336V338M761.5,335V337M762.5,335V336M763.5,333V336M764.5,333V334M765.5,333V334M766.5,333V334M767.5,332V334M768.5,331V333M769.5,331V333M770.5,331V333M771.5,330V332M772.5,330V332M773.5,330V332M774.5,329V331M775.5,328V330M776.5,328V330M777.5,328V330M778.5,328V329M779.5,327V329M780.5,326V328M781.5,327V328M782.5,327V328M783.5,325V328M784.5,323V326M785.5,323V325M786.5,324V326M787.5,324V326M788.5,324V325M789.5,324V326M790.5,324V326M791.5,323V325M792.5,322V323M793.5,322V324M794.5,322V324M795.5,321V322M796.5,321V322M797.5,321V322M798.5,321V322M799.5,319V322M800.5,319V320M801.5,318V320M802.5,317V319M803.5,318V321M804.5,318V322M805.5,317V319M806.5,317V318M807.5,316V318M808.5,316V317M809.5,316V317M810.5,316V317M811.5,316V318M812.5,316V318M813.5,316V317M814.5,315V317M815.5,315V316M816.5,315V316M817.5,315V316M818.5,315V317M819.5,314V316M820.5,314V315M821.5,312V315M822.5,312V314M823.5,313V315M824.5,313V315M825.5,313V315M826.5,311V315M827.5,309V312M828.5,310V313M829.5,311V313M830.5,311V312M831.5,310V312M832.5,310V311M833.5,310V311M834.5,310V311M835.5,309V311M836.5,309V310M837.5,308V310M838.5,308V309M839.5,307V309M840.5,307V308M841.5,307V308M842.5,306V308M843.5,305V307M844.5,304V307M845.5,306V309M846.5,304V308M847.5,304V307M848.5,305V307M849.5,304V306M850.5,305V306M851.5,304V306M852.5,304V306M853.5,305V306M854.5,304V306M855.5,303V305M856.5,303V305M857.5,304V306M858.5,305V307M859.5,304V306M860.5,304V305M861.5,303V305M862.5,302V304M863.5,302V304M864.5,303V304M865.5,302V304M866.5,301V303M867.5,302V304M868.5,301V303M869.5,301V302M870.5,301V302M871.5,300V301M872.5,300V301M873.5,300V301M874.5,300V301M875.5,301V302M876.5,300V302M877.5,299V301M878.5,299V300M879.5,299V300M880.5,299V301M881.5,297V300M882.5,297V301M883.5,300V302M884.5,300V301M885.5,299V301M886.5,298V300M887.5,298V300M888.5,299V301M889.5,298V301M890.5,299V302M891.5,300V302M892.5,298V301M893.5,296V299M894.5,297V300M895.5,298V300M896.5,298V299M897.5,298V299M898.5,298V299M899.5,298V299M900.5,298V299M901.5,298V300M902.5,299V300M903.5,299V300M904.5,298V300M905.5,297V299M906.5,296V298M907.5,296V298M908.5,297V299M909.5,298V300M910.5,299V301M911.5,300V302M912.5,297V302M913.5,296V298M914.5,297V299M915.5,298V299M916.5,298V299M917.5,297V299M918.5,298V299M919.5,298V299M920.5,297V299M921.5,297V298M922.5,297V298M923.5,297V299M924.5,298V300M925.5,299V300M926.5,298V300M927.5,296V299M928.5,295V297M929.5,295V297M930.5,296V297M931.5,295V297M932.5,296V299M933.5,296V299M934.5,295V297M935.5,296V298M936.5,295V297M937.5,295V297M938.5,296V298M939.5,297V299M940.5,298V300M941.5,296V299M942.5,296V299M943.5,296V299M944.5,295V297M945.5,295V297M946.5,296V298M947.5,297V298M948.5,297V299M949.5,298V300M950.5,299V300M951.5,297V300M952.5,296V299M953.5,298V300M954.5,297V300M955.5,298V302M956.5,300V303M957.5,300V301M958.5,300V301M959.5,299V301M960.5,299V301M961.5,300V301M962.5,300V301M963.5,299V301M964.5,299V302M965.5,301V302M966.5,301V302M967.5,301V303M968.5,301V302M969.5,301V302M970.5,301V303M971.5,300V302M972.5,301V307M973.5,302V307M974.5,301V303M975.5,301V303M976.5,302V304M977.5,303V304M978.5,302V305M979.5,301V303M980.5,300V302M981.5,300V301M982.5,300V301M983.5,301V302M984.5,301V302M985.5,301V302M986.5,301V303M987.5,302V304M988.5,302V304M989.5,300V303M990.5,300V302M991.5,301V303M992.5,302V304M993.5,303V305M994.5,303V305M995.5,303V304M996.5,303V305M997.5,304V306M998.5,306V308M999.5,306V308M1000.5,305V307M1001.5,306V309M1002.5,308V309M1003.5,307V309M1004.5,305V308M1005.5,305V306M1006.5,305V307M1007.5,306V308M1008.5,307V309M1009.5,307V309M1010.5,306V308M1011.5,306V311M1012.5,310V312M1013.5,309V312M1014.5,307V310M1015.5,306V308M1016.5,306V309M1017.5,308V310M1018.5,309V311M1019.5,310V312M1020.5,311V312M1021.5,310V312M1022.5,309V311M1023.5,308V310M1024.5,309V312M1025.5,311V313M1026.5,312V313M1027.5,311V313M1028.5,312V314M1029.5,313V314M1030.5,313V314M1031.5,313V314M1032.5,313V314M1033.5,313V315M1034.5,314V316M1035.5,313V316M1036.5,315V318M1037.5,315V317M1038.5,315V317M1039.5,316V318M1040.5,316V317M1041.5,316V318M1042.5,317V318M1043.5,317V319M1044.5,318V319M1045.5,317V319M1046.5,317V318M1047.5,317V319M1048.5,318V320M1049.5,319V320M1050.5,318V320M1051.5,318V320M1052.5,319V320M1053.5,319V320M1054.5,319V322M1055.5,321V322M1056.5,321V322M1057.5,321V323M1058.5,322V325M1059.5,323V325M1060.5,322V324M1061.5,323V324M1062.5,323V325M1063.5,323V325M1064.5,323V324M1065.5,323V325M1066.5,324V326M1067.5,325V327M1068.5,324V327M1069.5,323V325M1070.5,324V327M1071.5,326V327M1072.5,326V327M1073.5,326V328M1074.5,327V329M1075.5,327V329M1076.5,328V330M1077.5,329V330M1078.5,328V330M1079.5,329V330M1080.5,329V330M1081.5,328V330M1082.5,327V329M1083.5,327V328" fill="none" stroke="#2898cb" stroke-width="1" shape-rendering="crispEdges"/>
<text transform="translate(883.5,275) scale(1.0,1.1)" text-anchor="middle">Bin 4</text>
<text transform="translate(756.5,399) scale(0.97,1.1)" text-anchor="middle">2865</text>
<text transform="translate(837.5,399) scale(0.97,1.1)" text-anchor="middle">2870</text>
<text transform="translate(918.5,399) scale(0.97,1.1)" text-anchor="middle">2875</text>
<text transform="translate(999.5,399) scale(0.97,1.1)" text-anchor="middle">2880</text>
<text transform="translate(1080.5,399) scale(0.97,1.1)" text-anchor="middle">2885</text>
<text transform="translate(882.0,437) scale(1.02,1.1)" text-anchor="middle">Wavenumber [cm<tspan dy="-11.6" font-size="16.8">-1</tspan><tspan dy="11.6">]</tspan></text>
<text transform="translate(678.5,311.7) scale(0.96,1.1)" text-anchor="end">120</text>
<text transform="translate(678.5,324.7) scale(0.96,1.1)" text-anchor="end">100</text>
<text transform="translate(678.5,337.7) scale(0.96,1.1)" text-anchor="end">80</text>
<text transform="translate(678.5,350.7) scale(0.96,1.1)" text-anchor="end">60</text>
<text transform="translate(678.5,364.7) scale(0.96,1.1)" text-anchor="end">40</text>
<text transform="translate(625,331.5) rotate(-90) scale(1.02,1.1)" text-anchor="middle">ADU</text>
<g stroke="#000" stroke-width="1" shape-rendering="crispEdges" fill="none">
<line x1="160" y1="495.5" x2="556" y2="495.5" stroke-dasharray="1 4"/>
<line x1="156" y1="495.5" x2="161" y2="495.5"/>
<line x1="160" y1="508.5" x2="556" y2="508.5" stroke-dasharray="1 4"/>
<line x1="156" y1="508.5" x2="161" y2="508.5"/>
<line x1="160" y1="521.5" x2="556" y2="521.5" stroke-dasharray="1 4"/>
<line x1="156" y1="521.5" x2="161" y2="521.5"/>
<line x1="160" y1="535.5" x2="556" y2="535.5" stroke-dasharray="1 4"/>
<line x1="156" y1="535.5" x2="161" y2="535.5"/>
<line x1="160" y1="548.5" x2="556" y2="548.5" stroke-dasharray="1 4"/>
<line x1="156" y1="548.5" x2="161" y2="548.5"/>
<line x1="228.5" y1="555" x2="228.5" y2="493" stroke-dasharray="1 4"/>
<line x1="228.5" y1="561" x2="228.5" y2="556"/>
<line x1="309.5" y1="555" x2="309.5" y2="493" stroke-dasharray="1 4"/>
<line x1="309.5" y1="561" x2="309.5" y2="556"/>
<line x1="390.5" y1="555" x2="390.5" y2="493" stroke-dasharray="1 4"/>
<line x1="390.5" y1="561" x2="390.5" y2="556"/>
<line x1="471.5" y1="555" x2="471.5" y2="493" stroke-dasharray="1 4"/>
<line x1="471.5" y1="561" x2="471.5" y2="556"/>
<line x1="552.5" y1="555" x2="552.5" y2="493" stroke-dasharray="1 4"/>
<line x1="552.5" y1="561" x2="552.5" y2="556"/>
<line x1="156.5" y1="493" x2="156.5" y2="561"/>
<line x1="156" y1="560.5" x2="556" y2="560.5"/>
</g>
<path d="M156.5,559V560M157.5,558V560M158.5,558V559M159.5,558V559M160.5,557V559M161.5,557V558M162.5,557V558M163.5,557V558M164.5,556V558M165.5,556V557M166.5,556V557M167.5,556V557M168.5,555V557M169.5,555V556M170.5,555V556M171.5,555V556M172.5,555V556M173.5,554V556M174.5,554V555M175.5,553V554M176.5,553V555M177.5,553V555M178.5,553V554M179.5,552V554M180.5,552V553M181.5,551V552M182.5,551V552M183.5,551V552M184.5,551V552M185.5,550V552M186.5,549V551M187.5,549V550M188.5,549V550M189.5,548V550M190.5,548V549M191.5,548V549M192.5,548V549M193.5,548V549M194.5,547V549M195.5,547V548M196.5,547V548M197.5,547V548M198.5,546V548M199.5,545V547M200.5,545V546M201.5,545V546M202.5,545V546M203.5,544V546M204.5,543V545M205.5,542V544M206.5,542V543M207.5,541V543M208.5,541V542M209.5,541V542M210.5,539V542M211.5,539V541M212.5,540V541M213.5,540V541M214.5,539V541M215.5,539V540M216.5,539V540M217.5,538V540M218.5,538V539M219.5,537V539M220.5,537V538M221.5,536V538M222.5,536V537M223.5,536V537M224.5,536V537M225.5,535V537M226.5,534V536M227.5,533V535M228.5,533V534M229.5,533V535M230.5,533V535M231.5,532V534M232.5,532V533M233.5,532V533M234.5,531V533M235.5,531V532M236.5,528V532M237.5,528V530M238.5,529V531M239.5,529V531M240.5,528V530M241.5,527V529M242.5,527V528M243.5,527V528M244.5,527V528M245.5,525V527M246.5,525V526M247.5,525V527M248.5,525V526M249.5,525V526M250.5,525V526M251.5,524V526M252.5,523V525M253.5,523V524M254.5,523V524M255.5,523V524M256.5,522V524M257.5,522V523M258.5,521V523M259.5,520V522M260.5,520V521M261.5,520V521M262.5,519V521M263.5,519V520M264.5,519V520M265.5,519V521M266.5,517V520M267.5,517V518M268.5,517V519M269.5,518V520M270.5,517V519M271.5,517V518M272.5,516V518M273.5,515V517M274.5,515V516M275.5,515V517M276.5,516V518M277.5,516V518M278.5,515V517M279.5,513V516M280.5,513V515M281.5,514V516M282.5,515V516M283.5,514V516M284.5,513V515M285.5,512V514M286.5,513V515M287.5,514V516M288.5,512V515M289.5,512V513M290.5,512V514M291.5,511V513M292.5,510V512M293.5,510V512M294.5,511V512M295.5,512V513M296.5,512V514M297.5,510V514M298.5,509V511M299.5,509V510M300.5,508V510M301.5,507V509M302.5,507V509M303.5,509V511M304.5,510V511M305.5,509V511M306.5,507V510M307.5,507V508M308.5,508V509M309.5,507V509M310.5,506V508M311.5,506V507M312.5,505V507M313.5,505V506M314.5,505V506M315.5,505V507M316.5,505V508M317.5,503V506M318.5,502V504M319.5,502V505M320.5,504V506M321.5,502V505M322.5,500V503M323.5,501V502M324.5,501V502M325.5,501V502M326.5,501V502M327.5,501V502M328.5,501V503M329.5,501V503M330.5,500V502M331.5,500V501M332.5,498V501M333.5,498V500M334.5,499V501M335.5,500V501M336.5,498V501M337.5,497V499M338.5,497V499M339.5,498V501M340.5,499V501M341.5,497V500M342.5,496V498M343.5,495V497M344.5,496V498M345.5,497V500M346.5,498V500M347.5,497V499M348.5,497V498M349.5,497V498M350.5,497V499M351.5,498V500M352.5,499V501M353.5,496V500M354.5,496V498M355.5,497V498M356.5,497V498M357.5,496V498M358.5,496V497M359.5,496V498M360.5,497V499M361.5,497V499M362.5,497V499M363.5,498V499M364.5,498V500M365.5,496V499M366.5,496V498M367.5,496V498M368.5,496V497M369.5,496V497M370.5,496V498M371.5,496V498M372.5,494V497M373.5,494V496M374.5,495V499M375.5,496V498M376.5,494V497M377.5,493V495M378.5,492V494M379.5,492V495M380.5,494V496M381.5,495V497M382.5,496V497M383.5,496V499M384.5,495V499M385.5,494V496M386.5,494V496M387.5,492V495M388.5,492V495M389.5,494V496M390.5,495V497M391.5,494V496M392.5,494V495M393.5,494V495M394.5,494V496M395.5,495V496M396.5,495V498M397.5,494V498M398.5,493V496M399.5,495V497M400.5,493V496M401.5,493V495M402.5,494V495M403.5,494V495M404.5,494V496M405.5,495V496M406.5,495V497M407.5,496V497M408.5,496V498M409.5,497V503M410.5,498V503M411.5,496V499M412.5,496V497M413.5,496V498M414.5,497V498M415.5,497V498M416.5,496V498M417.5,495V497M418.5,495V497M419.5,496V498M420.5,497V499M421.5,498V499M422.5,498V499M423.5,497V499M424.5,497V499M425.5,498V499M426.5,497V499M427.5,497V499M428.5,498V500M429.5,499V501M430.5,499V500M431.5,499V500M432.5,498V500M433.5,497V499M434.5,498V499M435.5,496V499M436.5,496V499M437.5,498V500M438.5,497V499M439.5,496V498M440.5,496V498M441.5,497V499M442.5,497V499M443.5,495V498M444.5,495V497M445.5,496V499M446.5,498V500M447.5,498V500M448.5,498V499M449.5,497V499M450.5,496V499M451.5,499V502M452.5,500V501M453.5,500V501M454.5,499V501M455.5,498V500M456.5,499V502M457.5,501V502M458.5,500V502M459.5,500V501M460.5,500V501M461.5,500V501M462.5,500V502M463.5,501V503M464.5,501V502M465.5,501V502M466.5,500V502M467.5,500V501M468.5,500V503M469.5,502V505M470.5,504V506M471.5,505V506M472.5,505V506M473.5,505V507M474.5,504V506M475.5,504V505M476.5,504V506M477.5,505V506M478.5,505V506M479.5,505V508M480.5,506V509M481.5,504V507M482.5,505V507M483.5,506V507M484.5,506V507M485.5,506V508M486.5,507V509M487.5,506V509M488.5,506V510M489.5,509V511M490.5,510V511M491.5,509V511M492.5,509V512M493.5,511V513M494.5,512V513M495.5,510V513M496.5,510V512M497.5,511V513M498.5,512V513M499.5,512V513M500.5,511V513M501.5,511V512M502.5,511V513M503.5,512V514M504.5,512V514M505.5,512V515M506.5,514V515M507.5,514V515M508.5,514V515M509.5,514V516M510.5,515V516M511.5,515V516M512.5,515V516M513.5,515V518M514.5,516V518M515.5,516V517M516.5,516V518M517.5,515V517M518.5,515V518M519.5,517V519M520.5,516V518M521.5,517V519M522.5,518V521M523.5,520V521M524.5,520V521M525.5,519V521M526.5,518V520M527.5,518V521M528.5,520V521M529.5,520V521M530.5,520V522M531.5,520V522M532.5,520V522M533.5,521V524M534.5,523V524M535.5,521V524M536.5,521V523M537.5,522V523M538.5,522V524M539.5,523V525M540.5,523V525M541.5,523V525M542.5,524V526M543.5,525V526M544.5,525V526M545.5,525V527M546.5,526V528M547.5,525V527M548.5,525V526M549.5,525V527M550.5,526V528M551.5,527V528M552.5,526V528M553.5,525V527M554.5,524V526M555.5,524V526" fill="none" stroke="#2898cb" stroke-width="1" shape-rendering="crispEdges"/>
<text transform="translate(355.5,473) scale(1.0,1.1)" text-anchor="middle">Bin 5</text>
<text transform="translate(228.5,596) scale(0.97,1.1)" text-anchor="middle">2865</text>
<text transform="translate(309.5,596) scale(0.97,1.1)" text-anchor="middle">2870</text>
<text transform="translate(390.5,596) scale(0.97,1.1)" text-anchor="middle">2875</text>
<text transform="translate(471.5,596) scale(0.97,1.1)" text-anchor="middle">2880</text>
<text transform="translate(552.5,596) scale(0.97,1.1)" text-anchor="middle">2885</text>
<text transform="translate(354.0,634) scale(1.02,1.1)" text-anchor="middle">Wavenumber [cm<tspan dy="-11.6" font-size="16.8">-1</tspan><tspan dy="11.6">]</tspan></text>
<text transform="translate(150.5,506.7) scale(0.96,1.1)" text-anchor="end">120</text>
<text transform="translate(150.5,519.7) scale(0.96,1.1)" text-anchor="end">100</text>
<text transform="translate(150.5,532.7) scale(0.96,1.1)" text-anchor="end">80</text>
<text transform="translate(150.5,546.7) scale(0.96,1.1)" text-anchor="end">60</text>
<text transform="translate(150.5,559.7) scale(0.96,1.1)" text-anchor="end">40</text>
<text transform="translate(97,529.0) rotate(-90) scale(1.02,1.1)" text-anchor="middle">ADU</text>
<g stroke="#000" stroke-width="1" shape-rendering="crispEdges" fill="none">
<line x1="688" y1="504.5" x2="1084" y2="504.5" stroke-dasharray="1 4"/>
<line x1="684" y1="504.5" x2="689" y2="504.5"/>
<line x1="688" y1="540.5" x2="1084" y2="540.5" stroke-dasharray="1 4"/>
<line x1="684" y1="540.5" x2="689" y2="540.5"/>
<line x1="756.5" y1="555" x2="756.5" y2="493" stroke-dasharray="1 4"/>
<line x1="756.5" y1="561" x2="756.5" y2="556"/>
<line x1="837.5" y1="555" x2="837.5" y2="493" stroke-dasharray="1 4"/>
<line x1="837.5" y1="561" x2="837.5" y2="556"/>
<line x1="918.5" y1="555" x2="918.5" y2="493" stroke-dasharray="1 4"/>
<line x1="918.5" y1="561" x2="918.5" y2="556"/>
<line x1="999.5" y1="555" x2="999.5" y2="493" stroke-dasharray="1 4"/>
<line x1="999.5" y1="561" x2="999.5" y2="556"/>
<line x1="1080.5" y1="555" x2="1080.5" y2="493" stroke-dasharray="1 4"/>
<line x1="1080.5" y1="561" x2="1080.5" y2="556"/>
<line x1="684.5" y1="493" x2="684.5" y2="561"/>
<line x1="684" y1="560.5" x2="1084" y2="560.5"/>
</g>
<path d="M684.5,559V561M685.5,559V560M686.5,559V560M687.5,558V560M688.5,558V559M689.5,557V559M690.5,557V558M691.5,557V558M692.5,557V558M693.5,556V558M694.5,556V557M695.5,556V557M696.5,556V557M697.5,555V557M698.5,555V556M699.5,554V556M700.5,554V555M701.5,554V555M702.5,553V555M703.5,553V555M704.5,553V555M705.5,553V554M706.5,553V554M707.5,552V554M708.5,552V553M709.5,552V553M710.5,551V553M711.5,551V552M712.5,551V552M713.5,550V552M714.5,550V551M715.5,549V551M716.5,549V550M717.5,549V550M718.5,549V550M719.5,548V550M720.5,548V549M721.5,548V549M722.5,547V549M723.5,547V548M724.5,547V548M725.5,546V548M726.5,545V547M727.5,545V546M728.5,545V546M729.5,544V545M730.5,544V545M731.5,543V545M732.5,543V545M733.5,543V544M734.5,543V544M735.5,542V544M736.5,541V543M737.5,541V542M738.5,541V542M739.5,540V542M740.5,540V541M741.5,539V541M742.5,539V540M743.5,539V540M744.5,538V540M745.5,537V539M746.5,537V539M747.5,538V539M748.5,537V539M749.5,537V538M750.5,537V538M751.5,536V538M752.5,536V537M753.5,536V538M754.5,537V538M755.5,535V537M756.5,535V536M757.5,534V536M758.5,533V535M759.5,533V534M760.5,533V534M761.5,532V534M762.5,531V533M763.5,531V532M764.5,530V532M765.5,530V531M766.5,529V531M767.5,528V530M768.5,527V529M769.5,527V528M770.5,527V528M771.5,527V528M772.5,527V528M773.5,526V528M774.5,525V527M775.5,525V526M776.5,525V526M777.5,524V526M778.5,523V525M779.5,523V524M780.5,523V525M781.5,522V524M782.5,521V523M783.5,520V522M784.5,521V523M785.5,521V523M786.5,520V522M787.5,520V522M788.5,520V522M789.5,519V521M790.5,519V520M791.5,519V520M792.5,519V520M793.5,519V521M794.5,516V520M795.5,516V518M796.5,517V518M797.5,517V518M798.5,517V518M799.5,516V518M800.5,515V517M801.5,515V516M802.5,515V517M803.5,514V517M804.5,514V515M805.5,514V515M806.5,514V515M807.5,514V515M808.5,512V515M809.5,512V513M810.5,512V513M811.5,512V513M812.5,512V513M813.5,512V514M814.5,513V514M815.5,512V514M816.5,512V513M817.5,511V513M818.5,511V513M819.5,512V513M820.5,510V513M821.5,510V511M822.5,509V511M823.5,509V510M824.5,509V510M825.5,509V511M826.5,510V512M827.5,509V511M828.5,507V509M829.5,507V510M830.5,508V510M831.5,508V509M832.5,507V508M833.5,507V509M834.5,507V509M835.5,507V508M836.5,507V508M837.5,507V508M838.5,506V508M839.5,505V507M840.5,506V508M841.5,505V507M842.5,505V506M843.5,505V507M844.5,506V507M845.5,504V507M846.5,504V505M847.5,503V505M848.5,504V505M849.5,503V505M850.5,501V504M851.5,501V504M852.5,503V505M853.5,502V504M854.5,501V503M855.5,501V502M856.5,501V503M857.5,501V504M858.5,500V502M859.5,501V507M860.5,501V507M861.5,499V502M862.5,500V502M863.5,497V501M864.5,497V500M865.5,499V501M866.5,499V500M867.5,499V501M868.5,500V501M869.5,499V501M870.5,499V501M871.5,500V503M872.5,500V502M873.5,498V500M874.5,497V499M875.5,497V499M876.5,494V498M877.5,494V497M878.5,496V499M879.5,498V500M880.5,496V499M881.5,496V498M882.5,496V498M883.5,495V498M884.5,497V499M885.5,497V499M886.5,497V498M887.5,497V499M888.5,498V499M889.5,498V500M890.5,498V500M891.5,496V499M892.5,494V497M893.5,496V498M894.5,497V498M895.5,496V498M896.5,495V497M897.5,494V496M898.5,495V497M899.5,496V497M900.5,496V497M901.5,496V497M902.5,495V497M903.5,495V497M904.5,496V497M905.5,496V497M906.5,495V497M907.5,495V497M908.5,495V497M909.5,493V495M910.5,492V494M911.5,493V495M912.5,494V496M913.5,495V498M914.5,496V499M915.5,491V497M916.5,491V494M917.5,493V494M918.5,493V494M919.5,493V495M920.5,493V495M921.5,493V495M922.5,494V496M923.5,495V496M924.5,493V496M925.5,493V494M926.5,494V496M927.5,495V497M928.5,495V497M929.5,492V496M930.5,492V496M931.5,495V498M932.5,493V496M933.5,493V495M934.5,494V495M935.5,493V495M936.5,493V494M937.5,493V494M938.5,493V496M939.5,494V496M940.5,493V495M941.5,492V494M942.5,493V494M943.5,493V495M944.5,494V496M945.5,492V495M946.5,493V497M947.5,496V498M948.5,495V497M949.5,496V499M950.5,498V500M951.5,498V500M952.5,498V499M953.5,498V499M954.5,497V499M955.5,497V498M956.5,496V498M957.5,496V498M958.5,497V499M959.5,498V499M960.5,496V499M961.5,496V498M962.5,497V501M963.5,500V502M964.5,500V502M965.5,500V501M966.5,500V502M967.5,499V501M968.5,498V500M969.5,498V499M970.5,498V500M971.5,498V500M972.5,497V499M973.5,497V500M974.5,499V501M975.5,498V500M976.5,497V499M977.5,497V499M978.5,498V499M979.5,498V499M980.5,498V500M981.5,499V501M982.5,499V501M983.5,497V499M984.5,497V498M985.5,497V501M986.5,500V502M987.5,500V503M988.5,498V501M989.5,498V499M990.5,497V499M991.5,497V499M992.5,498V500M993.5,499V501M994.5,500V501M995.5,500V502M996.5,501V502M997.5,500V502M998.5,500V502M999.5,500V502M1000.5,500V503M1001.5,502V505M1002.5,504V505M1003.5,504V506M1004.5,504V506M1005.5,503V505M1006.5,504V507M1007.5,505V507M1008.5,505V507M1009.5,506V507M1010.5,506V507M1011.5,506V507M1012.5,506V507M1013.5,506V508M1014.5,505V507M1015.5,506V508M1016.5,507V509M1017.5,508V509M1018.5,507V509M1019.5,508V510M1020.5,509V513M1021.5,510V513M1022.5,509V511M1023.5,509V510M1024.5,509V511M1025.5,510V512M1026.5,511V513M1027.5,512V514M1028.5,512V514M1029.5,512V513M1030.5,512V513M1031.5,511V513M1032.5,512V514M1033.5,513V515M1034.5,513V515M1035.5,513V515M1036.5,514V515M1037.5,514V515M1038.5,514V516M1039.5,516V518M1040.5,517V519M1041.5,518V519M1042.5,518V519M1043.5,518V519M1044.5,518V519M1045.5,518V519M1046.5,518V519M1047.5,518V519M1048.5,518V520M1049.5,519V520M1050.5,519V520M1051.5,519V521M1052.5,520V521M1053.5,520V521M1054.5,520V522M1055.5,521V522M1056.5,520V522M1057.5,520V521M1058.5,520V521M1059.5,519V521M1060.5,519V522M1061.5,521V523M1062.5,521V523M1063.5,521V522M1064.5,521V524M1065.5,522V524M1066.5,521V523M1067.5,521V523M1068.5,522V524M1069.5,523V524M1070.5,523V524M1071.5,523V525M1072.5,524V525M1073.5,524V526M1074.5,525V527M1075.5,526V527M1076.5,526V528M1077.5,527V528M1078.5,527V528M1079.5,527V529M1080.5,528V529M1081.5,526V529M1082.5,525V527M1083.5,526V527" fill="none" stroke="#2898cb" stroke-width="1" shape-rendering="crispEdges"/>
<text transform="translate(883.5,473) scale(1.0,1.1)" text-anchor="middle">Bin 6</text>
<text transform="translate(756.5,596) scale(0.97,1.1)" text-anchor="middle">2865</text>
<text transform="translate(837.5,596) scale(0.97,1.1)" text-anchor="middle">2870</text>
<text transform="translate(918.5,596) scale(0.97,1.1)" text-anchor="middle">2875</text>
<text transform="translate(999.5,596) scale(0.97,1.1)" text-anchor="middle">2880</text>
<text transform="translate(1080.5,596) scale(0.97,1.1)" text-anchor="middle">2885</text>
<text transform="translate(882.0,634) scale(1.02,1.1)" text-anchor="middle">Wavenumber [cm<tspan dy="-11.6" font-size="16.8">-1</tspan><tspan dy="11.6">]</tspan></text>
<text transform="translate(678.5,515.7) scale(0.96,1.1)" text-anchor="end">100</text>
<text transform="translate(678.5,551.7) scale(0.96,1.1)" text-anchor="end">50</text>
<text transform="translate(625,529.0) rotate(-90) scale(1.02,1.1)" text-anchor="middle">ADU</text>
<g stroke="#000" stroke-width="1" shape-rendering="crispEdges" fill="none">
<line x1="160" y1="696.5" x2="556" y2="696.5" stroke-dasharray="1 4"/>
<line x1="156" y1="696.5" x2="161" y2="696.5"/>
<line x1="160" y1="735.5" x2="556" y2="735.5" stroke-dasharray="1 4"/>
<line x1="156" y1="735.5" x2="161" y2="735.5"/>
<line x1="228.5" y1="752" x2="228.5" y2="690" stroke-dasharray="1 4"/>
<line x1="228.5" y1="758" x2="228.5" y2="753"/>
<line x1="309.5" y1="752" x2="309.5" y2="690" stroke-dasharray="1 4"/>
<line x1="309.5" y1="758" x2="309.5" y2="753"/>
<line x1="390.5" y1="752" x2="390.5" y2="690" stroke-dasharray="1 4"/>
<line x1="390.5" y1="758" x2="390.5" y2="753"/>
<line x1="471.5" y1="752" x2="471.5" y2="690" stroke-dasharray="1 4"/>
<line x1="471.5" y1="758" x2="471.5" y2="753"/>
<line x1="552.5" y1="752" x2="552.5" y2="690" stroke-dasharray="1 4"/>
<line x1="552.5" y1="758" x2="552.5" y2="753"/>
<line x1="156.5" y1="690" x2="156.5" y2="758"/>
<line x1="156" y1="757.5" x2="556" y2="757.5"/>
</g>
<path d="M156.5,756V757M157.5,756V757M158.5,756V757M159.5,755V757M160.5,755V756M161.5,755V756M162.5,754V755M163.5,753V755M164.5,753V754M165.5,753V754M166.5,753V754M167.5,752V754M168.5,752V753M169.5,752V753M170.5,752V753M171.5,751V753M172.5,751V752M173.5,751V752M174.5,751V752M175.5,750V752M176.5,749V751M177.5,749V751M178.5,749V751M179.5,748V750M180.5,748V749M181.5,747V749M182.5,747V748M183.5,747V749M184.5,746V748M185.5,746V747M186.5,746V747M187.5,746V747M188.5,746V747M189.5,745V747M190.5,744V746M191.5,744V746M192.5,744V745M193.5,744V745M194.5,744V745M195.5,743V745M196.5,743V744M197.5,742V744M198.5,742V743M199.5,742V743M200.5,742V743M201.5,741V743M202.5,741V742M203.5,740V742M204.5,739V741M205.5,739V741M206.5,738V740M207.5,738V739M208.5,738V739M209.5,738V740M210.5,739V740M211.5,738V740M212.5,737V739M213.5,736V738M214.5,736V737M215.5,736V737M216.5,735V737M217.5,735V736M218.5,735V736M219.5,734V736M220.5,734V735M221.5,733V735M222.5,732V734M223.5,732V733M224.5,731V733M225.5,730V732M226.5,729V731M227.5,730V732M228.5,731V732M229.5,730V732M230.5,729V731M231.5,728V730M232.5,726V729M233.5,725V727M234.5,726V728M235.5,727V728M236.5,726V728M237.5,725V727M238.5,725V727M239.5,724V726M240.5,724V725M241.5,724V725M242.5,723V725M243.5,723V724M244.5,721V723M245.5,721V723M246.5,722V723M247.5,721V723M248.5,720V722M249.5,719V721M250.5,719V720M251.5,719V720M252.5,719V720M253.5,719V720M254.5,719V720M255.5,719V720M256.5,718V720M257.5,718V719M258.5,717V719M259.5,717V718M260.5,716V718M261.5,715V717M262.5,715V717M263.5,716V717M264.5,716V717M265.5,715V717M266.5,715V716M267.5,714V716M268.5,713V714M269.5,713V715M270.5,713V715M271.5,713V715M272.5,713V715M273.5,713V714M274.5,713V715M275.5,709V714M276.5,709V711M277.5,710V711M278.5,710V712M279.5,711V712M280.5,710V712M281.5,709V711M282.5,709V710M283.5,708V710M284.5,708V709M285.5,708V709M286.5,708V710M287.5,709V712M288.5,708V712M289.5,707V711M290.5,710V712M291.5,708V711M292.5,707V709M293.5,707V708M294.5,707V708M295.5,706V708M296.5,704V707M297.5,704V705M298.5,704V707M299.5,706V709M300.5,704V707M301.5,704V706M302.5,705V706M303.5,703V706M304.5,701V704M305.5,702V705M306.5,703V705M307.5,703V704M308.5,703V705M309.5,702V704M310.5,702V703M311.5,702V703M312.5,701V703M313.5,700V702M314.5,701V703M315.5,701V703M316.5,701V702M317.5,701V702M318.5,699V702M319.5,699V701M320.5,698V701M321.5,697V699M322.5,697V698M323.5,697V699M324.5,698V700M325.5,697V699M326.5,696V698M327.5,696V698M328.5,695V698M329.5,694V696M330.5,695V697M331.5,696V697M332.5,695V697M333.5,695V696M334.5,694V696M335.5,695V699M336.5,696V699M337.5,695V697M338.5,694V695M339.5,694V695M340.5,693V695M341.5,692V694M342.5,692V693M343.5,692V693M344.5,692V694M345.5,694V696M346.5,695V696M347.5,695V697M348.5,694V696M349.5,694V697M350.5,695V697M351.5,694V696M352.5,691V694M353.5,691V694M354.5,693V695M355.5,694V695M356.5,695V696M357.5,695V696M358.5,692V696M359.5,691V693M360.5,691V693M361.5,692V697M362.5,693V697M363.5,693V695M364.5,694V695M365.5,692V695M366.5,691V693M367.5,691V694M368.5,693V695M369.5,693V695M370.5,693V695M371.5,693V695M372.5,692V694M373.5,691V693M374.5,691V693M375.5,692V694M376.5,692V694M377.5,691V693M378.5,691V693M379.5,692V695M380.5,691V696M381.5,690V692M382.5,690V692M383.5,691V692M384.5,691V693M385.5,692V694M386.5,691V693M387.5,690V692M388.5,690V693M389.5,691V693M390.5,690V692M391.5,691V693M392.5,692V693M393.5,691V693M394.5,691V692M395.5,691V693M396.5,692V694M397.5,690V694M398.5,689V691M399.5,690V693M400.5,691V692M401.5,690V692M402.5,690V692M403.5,691V693M404.5,692V694M405.5,691V693M406.5,691V692M407.5,689V692M408.5,688V690M409.5,688V692M410.5,691V692M411.5,691V693M412.5,691V692M413.5,691V693M414.5,692V694M415.5,693V695M416.5,694V696M417.5,693V695M418.5,694V697M419.5,696V697M420.5,695V697M421.5,695V696M422.5,695V696M423.5,695V696M424.5,694V696M425.5,694V695M426.5,694V696M427.5,695V696M428.5,695V697M429.5,696V697M430.5,696V699M431.5,698V699M432.5,697V699M433.5,697V698M434.5,697V698M435.5,694V698M436.5,694V695M437.5,694V696M438.5,695V697M439.5,696V698M440.5,697V699M441.5,698V700M442.5,699V701M443.5,697V699M444.5,697V699M445.5,698V699M446.5,697V699M447.5,697V698M448.5,697V699M449.5,697V699M450.5,697V699M451.5,698V700M452.5,695V698M453.5,694V696M454.5,693V696M455.5,696V698M456.5,697V699M457.5,698V699M458.5,697V699M459.5,696V698M460.5,697V699M461.5,697V699M462.5,697V699M463.5,698V700M464.5,697V699M465.5,697V698M466.5,697V701M467.5,699V702M468.5,698V700M469.5,698V699M470.5,698V701M471.5,700V702M472.5,699V701M473.5,698V700M474.5,699V703M475.5,700V703M476.5,700V701M477.5,700V702M478.5,701V703M479.5,702V705M480.5,703V705M481.5,702V704M482.5,703V705M483.5,703V704M484.5,703V704M485.5,703V705M486.5,702V704M487.5,702V705M488.5,704V705M489.5,704V705M490.5,704V705M491.5,704V707M492.5,706V708M493.5,707V709M494.5,708V709M495.5,708V709M496.5,708V711M497.5,709V711M498.5,709V710M499.5,709V711M500.5,710V712M501.5,710V712M502.5,710V711M503.5,710V711M504.5,710V711M505.5,710V711M506.5,710V711M507.5,710V711M508.5,711V712M509.5,709V712M510.5,709V712M511.5,711V713M512.5,712V714M513.5,713V715M514.5,714V716M515.5,715V716M516.5,715V717M517.5,716V717M518.5,716V717M519.5,716V717M520.5,716V717M521.5,716V717M522.5,715V717M523.5,714V716M524.5,713V715M525.5,714V715M526.5,715V716M527.5,715V717M528.5,716V717M529.5,715V717M530.5,716V718M531.5,717V719M532.5,718V719M533.5,718V719M534.5,718V720M535.5,719V722M536.5,720V722M537.5,720V722M538.5,721V723M539.5,721V723M540.5,721V722M541.5,721V723M542.5,722V724M543.5,722V723M544.5,722V724M545.5,722V724M546.5,722V724M547.5,723V725M548.5,724V725M549.5,724V726M550.5,725V726M551.5,724V726M552.5,724V725M553.5,724V725M554.5,723V725M555.5,724V725" fill="none" stroke="#2898cb" stroke-width="1" shape-rendering="crispEdges"/>
<text transform="translate(355.5,670) scale(1.0,1.1)" text-anchor="middle">Bin 7</text>
<text transform="translate(228.5,793) scale(0.97,1.1)" text-anchor="middle">2865</text>
<text transform="translate(309.5,793) scale(0.97,1.1)" text-anchor="middle">2870</text>
<text transform="translate(390.5,793) scale(0.97,1.1)" text-anchor="middle">2875</text>
<text transform="translate(471.5,793) scale(0.97,1.1)" text-anchor="middle">2880</text>
<text transform="translate(552.5,793) scale(0.97,1.1)" text-anchor="middle">2885</text>
<text transform="translate(354.0,831) scale(1.02,1.1)" text-anchor="middle">Wavenumber [cm<tspan dy="-11.6" font-size="16.8">-1</tspan><tspan dy="11.6">]</tspan></text>
<text transform="translate(150.5,707.7) scale(0.96,1.1)" text-anchor="end">100</text>
<text transform="translate(150.5,746.7) scale(0.96,1.1)" text-anchor="end">50</text>
<text transform="translate(97,726.0) rotate(-90) scale(1.02,1.1)" text-anchor="middle">ADU</text>
<g stroke="#000" stroke-width="1" shape-rendering="crispEdges" fill="none">
<line x1="688" y1="706.5" x2="1084" y2="706.5" stroke-dasharray="1 4"/>
<line x1="684" y1="706.5" x2="689" y2="706.5"/>
<line x1="688" y1="723.5" x2="1084" y2="723.5" stroke-dasharray="1 4"/>
<line x1="684" y1="723.5" x2="689" y2="723.5"/>
<line x1="688" y1="740.5" x2="1084" y2="740.5" stroke-dasharray="1 4"/>
<line x1="684" y1="740.5" x2="689" y2="740.5"/>
<line x1="756.5" y1="752" x2="756.5" y2="690" stroke-dasharray="1 4"/>
<line x1="756.5" y1="758" x2="756.5" y2="753"/>
<line x1="837.5" y1="752" x2="837.5" y2="690" stroke-dasharray="1 4"/>
<line x1="837.5" y1="758" x2="837.5" y2="753"/>
<line x1="918.5" y1="752" x2="918.5" y2="690" stroke-dasharray="1 4"/>
<line x1="918.5" y1="758" x2="918.5" y2="753"/>
<line x1="999.5" y1="752" x2="999.5" y2="690" stroke-dasharray="1 4"/>
<line x1="999.5" y1="758" x2="999.5" y2="753"/>
<line x1="1080.5" y1="752" x2="1080.5" y2="690" stroke-dasharray="1 4"/>
<line x1="1080.5" y1="758" x2="1080.5" y2="753"/>
<line x1="684.5" y1="690" x2="684.5" y2="758"/>
<line x1="684" y1="757.5" x2="1084" y2="757.5"/>
</g>
<path d="M684.5,756V757M685.5,756V757M686.5,755V757M687.5,755V756M688.5,755V756M689.5,755V756M690.5,755V756M691.5,754V756M692.5,754V755M693.5,754V756M694.5,754V755M695.5,754V755M696.5,753V755M697.5,753V754M698.5,753V754M699.5,753V754M700.5,753V754M701.5,752V754M702.5,752V754M703.5,752V753M704.5,752V753M705.5,751V753M706.5,751V752M707.5,750V752M708.5,750V751M709.5,750V751M710.5,750V751M711.5,750V751M712.5,749V751M713.5,748V750M714.5,748V749M715.5,747V749M716.5,747V748M717.5,747V748M718.5,747V748M719.5,746V748M720.5,746V747M721.5,745V747M722.5,742V746M723.5,740V743M724.5,742V746M725.5,744V745M726.5,744V745M727.5,743V745M728.5,743V744M729.5,742V744M730.5,742V743M731.5,742V743M732.5,741V743M733.5,740V742M734.5,740V741M735.5,740V742M736.5,739V741M737.5,739V740M738.5,739V740M739.5,738V740M740.5,738V739M741.5,737V739M742.5,737V738M743.5,737V738M744.5,736V738M745.5,734V737M746.5,730V735M747.5,730V735M748.5,734V736M749.5,734V736M750.5,734V735M751.5,733V735M752.5,732V734M753.5,731V732M754.5,731V733M755.5,731V733M756.5,731V732M757.5,730V732M758.5,729V731M759.5,729V730M760.5,728V730M761.5,728V729M762.5,727V729M763.5,725V728M764.5,725V727M765.5,726V727M766.5,726V727M767.5,725V727M768.5,725V727M769.5,724V727M770.5,724V725M771.5,723V725M772.5,724V725M773.5,723V725M774.5,722V724M775.5,723V724M776.5,722V724M777.5,721V723M778.5,720V722M779.5,720V721M780.5,720V721M781.5,719V721M782.5,719V720M783.5,718V720M784.5,718V719M785.5,718V719M786.5,717V719M787.5,717V718M788.5,716V718M789.5,716V717M790.5,715V717M791.5,715V716M792.5,715V716M793.5,714V716M794.5,713V715M795.5,713V714M796.5,712V715M797.5,714V716M798.5,713V715M799.5,713V714M800.5,712V714M801.5,712V713M802.5,713V715M803.5,712V714M804.5,710V713M805.5,710V711M806.5,710V712M807.5,710V712M808.5,710V711M809.5,710V712M810.5,710V711M811.5,710V712M812.5,710V711M813.5,709V711M814.5,708V710M815.5,709V711M816.5,710V712M817.5,708V712M818.5,707V709M819.5,708V709M820.5,707V709M821.5,707V708M822.5,706V708M823.5,705V707M824.5,705V706M825.5,705V707M826.5,706V708M827.5,705V707M828.5,704V706M829.5,704V707M830.5,706V707M831.5,705V707M832.5,704V706M833.5,702V704M834.5,702V703M835.5,702V704M836.5,702V705M837.5,699V703M838.5,699V700M839.5,699V701M840.5,700V702M841.5,701V703M842.5,701V702M843.5,700V701M844.5,700V701M845.5,700V701M846.5,699V700M847.5,699V701M848.5,700V703M849.5,702V704M850.5,699V703M851.5,699V700M852.5,698V700M853.5,697V699M854.5,698V700M855.5,698V700M856.5,697V699M857.5,697V698M858.5,696V698M859.5,696V697M860.5,696V697M861.5,696V697M862.5,695V697M863.5,695V696M864.5,695V699M865.5,698V700M866.5,697V699M867.5,697V699M868.5,697V699M869.5,695V698M870.5,694V696M871.5,695V697M872.5,695V697M873.5,695V696M874.5,695V696M875.5,695V697M876.5,696V697M877.5,695V697M878.5,695V696M879.5,695V696M880.5,694V696M881.5,694V695M882.5,694V696M883.5,695V697M884.5,696V697M885.5,694V697M886.5,693V695M887.5,692V694M888.5,693V694M889.5,693V695M890.5,694V695M891.5,694V696M892.5,695V696M893.5,695V696M894.5,694V696M895.5,694V695M896.5,693V695M897.5,692V693M898.5,692V696M899.5,695V696M900.5,693V696M901.5,692V694M902.5,693V694M903.5,693V694M904.5,692V694M905.5,692V694M906.5,693V696M907.5,692V695M908.5,692V695M909.5,694V697M910.5,692V695M911.5,691V692M912.5,691V693M913.5,692V695M914.5,694V696M915.5,691V695M916.5,691V693M917.5,690V693M918.5,688V691M919.5,690V693M920.5,690V693M921.5,690V692M922.5,691V694M923.5,693V695M924.5,692V694M925.5,692V694M926.5,692V694M927.5,692V693M928.5,692V693M929.5,692V693M930.5,692V694M931.5,693V695M932.5,693V694M933.5,693V694M934.5,692V694M935.5,691V693M936.5,691V692M937.5,691V694M938.5,693V694M939.5,693V695M940.5,694V696M941.5,695V696M942.5,695V696M943.5,694V696M944.5,693V695M945.5,694V696M946.5,695V697M947.5,695V697M948.5,694V696M949.5,693V695M950.5,694V696M951.5,695V697M952.5,696V698M953.5,697V698M954.5,696V698M955.5,695V697M956.5,695V698M957.5,697V699M958.5,696V699M959.5,696V697M960.5,696V698M961.5,697V698M962.5,697V699M963.5,697V698M964.5,696V698M965.5,696V697M966.5,696V697M967.5,697V699M968.5,697V699M969.5,697V698M970.5,696V698M971.5,694V697M972.5,695V697M973.5,696V698M974.5,697V698M975.5,697V698M976.5,695V698M977.5,695V698M978.5,697V700M979.5,699V702M980.5,699V701M981.5,699V700M982.5,699V700M983.5,698V700M984.5,698V699M985.5,698V701M986.5,699V701M987.5,699V700M988.5,699V701M989.5,700V702M990.5,701V702M991.5,701V702M992.5,700V702M993.5,698V701M994.5,698V700M995.5,699V702M996.5,701V703M997.5,699V701M998.5,699V702M999.5,701V703M1000.5,700V702M1001.5,701V703M1002.5,701V702M1003.5,701V702M1004.5,701V702M1005.5,701V704M1006.5,703V706M1007.5,704V706M1008.5,704V705M1009.5,704V705M1010.5,705V707M1011.5,704V707M1012.5,704V706M1013.5,705V707M1014.5,706V707M1015.5,706V707M1016.5,706V707M1017.5,706V707M1018.5,705V707M1019.5,703V706M1020.5,704V707M1021.5,706V708M1022.5,707V708M1023.5,707V708M1024.5,707V709M1025.5,708V709M1026.5,708V710M1027.5,708V710M1028.5,709V711M1029.5,710V712M1030.5,711V713M1031.5,710V712M1032.5,710V711M1033.5,710V711M1034.5,710V712M1035.5,711V713M1036.5,710V712M1037.5,711V715M1038.5,714V715M1039.5,713V715M1040.5,713V714M1041.5,713V716M1042.5,714V716M1043.5,714V715M1044.5,714V716M1045.5,715V717M1046.5,715V717M1047.5,715V717M1048.5,716V718M1049.5,717V718M1050.5,717V719M1051.5,718V720M1052.5,718V720M1053.5,719V720M1054.5,719V720M1055.5,718V720M1056.5,718V719M1057.5,718V719M1058.5,718V719M1059.5,718V721M1060.5,719V721M1061.5,718V720M1062.5,719V721M1063.5,719V721M1064.5,719V721M1065.5,720V723M1066.5,722V723M1067.5,722V723M1068.5,722V723M1069.5,722V724M1070.5,723V724M1071.5,723V725M1072.5,723V725M1073.5,723V725M1074.5,724V726M1075.5,725V726M1076.5,724V726M1077.5,724V725M1078.5,724V726M1079.5,725V727M1080.5,726V727M1081.5,725V727M1082.5,724V726M1083.5,723V725" fill="none" stroke="#2898cb" stroke-width="1" shape-rendering="crispEdges"/>
<text transform="translate(883.5,670) scale(1.0,1.1)" text-anchor="middle">Bin 8</text>
<text transform="translate(756.5,793) scale(0.97,1.1)" text-anchor="middle">2865</text>
<text transform="translate(837.5,793) scale(0.97,1.1)" text-anchor="middle">2870</text>
<text transform="translate(918.5,793) scale(0.97,1.1)" text-anchor="middle">2875</text>
<text transform="translate(999.5,793) scale(0.97,1.1)" text-anchor="middle">2880</text>
<text transform="translate(1080.5,793) scale(0.97,1.1)" text-anchor="middle">2885</text>
<text transform="translate(882.0,831) scale(1.02,1.1)" text-anchor="middle">Wavenumber [cm<tspan dy="-11.6" font-size="16.8">-1</tspan><tspan dy="11.6">]</tspan></text>
<text transform="translate(678.5,717.7) scale(0.96,1.1)" text-anchor="end">80</text>
<text transform="translate(678.5,734.7) scale(0.96,1.1)" text-anchor="end">60</text>
<text transform="translate(678.5,751.7) scale(0.96,1.1)" text-anchor="end">40</text>
<text transform="translate(638,726.0) rotate(-90) scale(1.02,1.1)" text-anchor="middle">ADU</text>
</svg>
</body></html>
